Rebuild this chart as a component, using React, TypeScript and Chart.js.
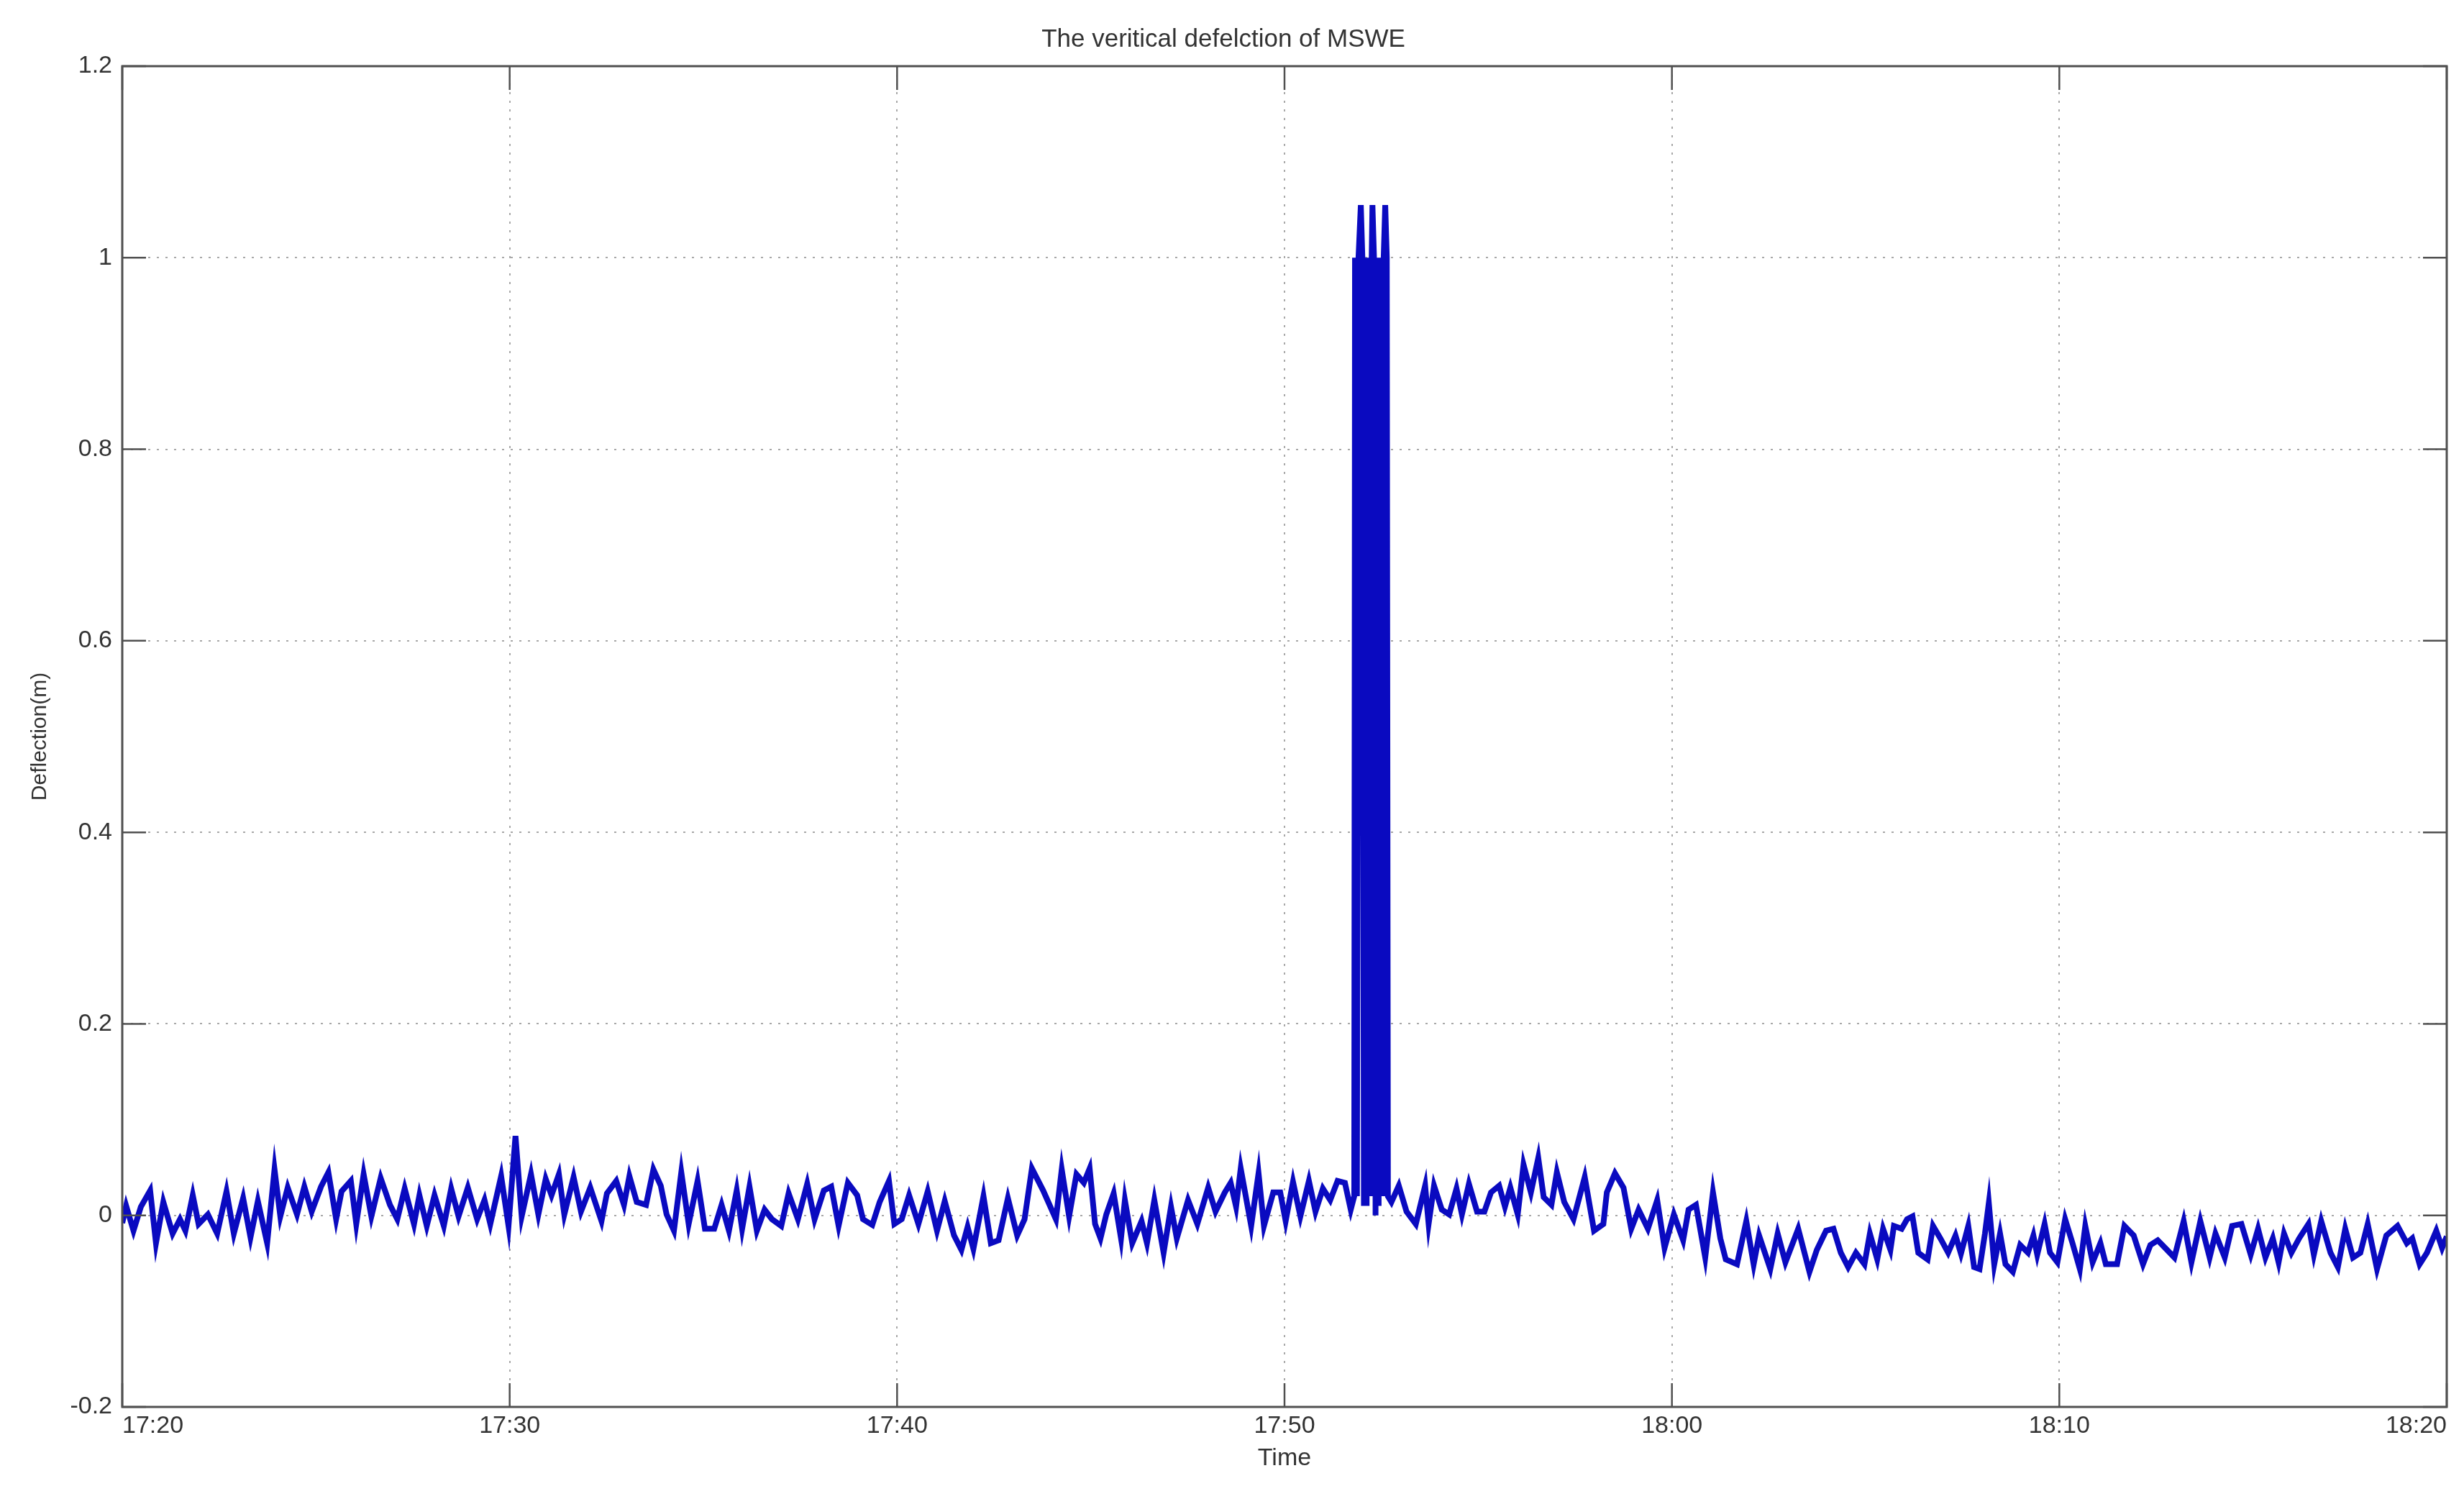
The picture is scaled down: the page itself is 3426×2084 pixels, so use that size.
import React, { useEffect, useRef } from 'react';
import { Chart, registerables } from 'chart.js';

Chart.register(...registerables);

const TITLE = 'The veritical defelction of MSWE';
const X_TITLE = 'Time';
const Y_TITLE = 'Deflection(m)';
const START_MINUTE_OF_DAY = 17 * 60 + 20;
const X_MIN = 0;
const X_MAX = 60;
const X_STEP = 10;
const Y_MIN = -0.2;
const Y_MAX = 1.2;
const Y_STEP = 0.2;

// minutes after 17:20
const timeMinutes = [
  0.00, 0.10, 0.29, 0.48, 0.72, 0.87, 1.06, 1.30, 1.49, 1.63, 1.82, 1.97, 2.21, 2.45, 2.69, 2.88, 3.12, 3.31, 3.50, 3.74,
  3.93, 4.08, 4.27, 4.51, 4.70, 4.89, 5.13, 5.32, 5.52, 5.66, 5.90, 6.04, 6.23, 6.43, 6.67, 6.91, 7.10, 7.29, 7.53, 7.67,
  7.86, 8.06, 8.30, 8.49, 8.68, 8.92, 9.16, 9.35, 9.50, 9.78, 9.97, 10.15, 10.31, 10.55, 10.74, 10.93, 11.08, 11.27, 11.41, 11.65,
  11.84, 12.08, 12.37, 12.51, 12.75, 12.95, 13.09, 13.28, 13.52, 13.71, 13.90, 14.05, 14.24, 14.43, 14.62,
  14.85, 15.04, 15.28, 15.47, 15.66, 15.86, 16.00, 16.19, 16.38, 16.58, 16.77, 17.01, 17.20, 17.44, 17.68, 17.87, 18.11, 18.30, 18.49, 18.73,
  18.97, 19.12, 19.36, 19.55, 19.79, 19.93, 20.12, 20.31, 20.55, 20.79, 21.03, 21.23, 21.47, 21.66, 21.82, 21.97, 22.23, 22.42, 22.62, 22.86,
  23.10, 23.29, 23.48, 23.77, 24.10, 24.25, 24.44, 24.63, 24.82, 24.97, 25.11, 25.25, 25.40, 25.59, 25.78, 25.88, 26.07, 26.31, 26.45, 26.64,
  26.88, 27.07, 27.22, 27.51, 27.75, 28.03, 28.22, 28.46, 28.61, 28.75, 28.87, 29.14, 29.33, 29.47, 29.71,
  29.89, 30.03, 30.22, 30.41, 30.63, 30.80, 30.99, 31.18, 31.37, 31.56, 31.71,
  31.80, 31.82, 31.87, 31.91, 31.97, 32.01, 32.05, 32.09, 32.12, 32.16, 32.22, 32.25, 32.27, 32.31, 32.35, 32.39, 32.43, 32.47, 32.53, 32.56,
  32.60, 32.64, 32.67,
  32.76, 32.95, 33.15, 33.39, 33.63, 33.72, 33.86, 34.06, 34.25, 34.44, 34.58, 34.76, 34.97, 35.16, 35.33, 35.54, 35.69, 35.83, 36.02, 36.17,
  36.36, 36.55, 36.69, 36.89, 37.03, 37.22, 37.46, 37.75, 37.99, 38.23, 38.32, 38.53, 38.75, 38.95, 39.14, 39.38, 39.62, 39.81, 40.05, 40.29,
  40.43, 40.62, 40.86, 41.06, 41.25, 41.39, 41.68, 41.92, 42.11, 42.25, 42.54, 42.73, 42.93, 43.26, 43.55, 43.74, 43.98, 44.17, 44.36, 44.55,
  44.75,
  44.97, 45.11, 45.30, 45.45, 45.64, 45.73, 45.93, 46.07, 46.21, 46.36, 46.60, 46.74, 46.93, 47.13, 47.32, 47.46, 47.65, 47.80, 47.94, 48.08,
  48.18, 48.32, 48.47, 48.61, 48.80, 48.99, 49.19, 49.33, 49.43, 49.62, 49.76, 49.95, 50.15, 50.34, 50.53, 50.67, 50.86, 51.06, 51.20, 51.49,
  51.68, 51.92, 52.16, 52.35, 52.54, 52.78, 52.97, 53.21, 53.41, 53.64, 53.88, 54.03, 54.27, 54.46, 54.70, 54.94, 55.13, 55.32, 55.51, 55.66,
  55.80, 55.99, 56.19, 56.43, 56.57, 56.76, 57.00, 57.19, 57.38, 57.58, 57.77, 57.96, 58.20, 58.44, 58.73, 58.97, 59.11, 59.30, 59.49, 59.73,
  59.88, 60.00,
];

// vertical deflection (m)
const deflection = [
  -0.008, 0.010, -0.016, 0.009, 0.026, -0.029, 0.014, -0.019, -0.004, -0.016, 0.021, -0.009, 0.001, -0.019, 0.025, -0.019, 0.018, -0.023, 0.015, -0.029,
  0.048, -0.001, 0.029, 0.001, 0.030, 0.004, 0.030, 0.045, -0.004, 0.025, 0.036, -0.009, 0.043, -0.001, 0.039, 0.011, -0.004, 0.028, -0.009, 0.021,
  -0.011, 0.021, -0.011, 0.028, -0.001, 0.029, -0.004, 0.016, -0.009, 0.041, -0.011, 0.083, -0.001, 0.043, 0.001, 0.038, 0.021, 0.043, 0.001, 0.040,
  0.004, 0.029, -0.006, 0.023, 0.036, 0.011, 0.041, 0.014, 0.011, 0.048, 0.031, 0.001, -0.016, 0.045, -0.009,
  0.036, -0.014, -0.014, 0.011, -0.016, 0.026, -0.014, 0.030, -0.016, 0.006, -0.004, -0.011, 0.023, -0.004, 0.033, -0.004, 0.026, 0.030, -0.011, 0.034,
  0.021, -0.004, -0.010, 0.014, 0.036, -0.009, -0.004, 0.021, -0.009, 0.025, -0.016, 0.015, -0.021, -0.036, -0.012, -0.035, 0.020, -0.029, -0.026, 0.018,
  -0.021, -0.004, 0.049, 0.026, -0.004, 0.048, -0.001, 0.043, 0.034, 0.049, -0.009, -0.024, 0.001, 0.023, -0.024, 0.016, -0.029, -0.006, -0.029, 0.016,
  -0.039, 0.009, -0.024, 0.016, -0.009, 0.029, 0.004, 0.024, 0.034, 0.009, 0.049, -0.011, 0.044, -0.011, 0.024,
  0.024, -0.006, 0.035, -0.001, 0.036, 0.004, 0.028, 0.016, 0.036, 0.034, 0.006,
  0.020, 1.000, 0.020, 1.000, 1.055, 1.000, 0.010, 1.000, 0.010, 1.000, 0.020, 1.000, 1.055, 1.000, 0.000, 1.000, 0.010, 1.000, 0.020, 1.000,
  1.055, 1.000, 0.020,
  0.014, 0.031, 0.004, -0.009, 0.031, -0.009, 0.031, 0.006, 0.001, 0.028, 0.001, 0.033, 0.004, 0.004, 0.024, 0.031, 0.009, 0.029, 0.001, 0.053,
  0.024, 0.060, 0.019, 0.011, 0.045, 0.014, -0.004, 0.040, -0.016, -0.009, 0.024, 0.044, 0.029, -0.014, 0.006, -0.014, 0.016, -0.034, 0.001, -0.026,
  0.006, 0.011, -0.044, 0.024, -0.024, -0.046, -0.051, -0.006, -0.051, -0.021, -0.056, -0.019, -0.049, -0.014, -0.059, -0.036, -0.016, -0.014, -0.039, -0.054,
  -0.039,
  -0.051, -0.019, -0.046, -0.014, -0.036, -0.011, -0.014, -0.004, -0.001, -0.039, -0.046, -0.011, -0.024, -0.039, -0.021, -0.040, -0.011, -0.054, -0.056, -0.019,
  0.013, -0.051, -0.019, -0.051, -0.059, -0.031, -0.039, -0.021, -0.041, -0.009, -0.039, -0.049, -0.004, -0.029, -0.056, -0.011, -0.049, -0.029, -0.051, -0.051,
  -0.011, -0.021, -0.051, -0.031, -0.026, -0.036, -0.044, -0.006, -0.049, -0.006, -0.044, -0.019, -0.044, -0.011, -0.009, -0.041, -0.014, -0.044, -0.024, -0.049,
  -0.019, -0.039, -0.024, -0.009, -0.041, -0.006, -0.039, -0.054, -0.014, -0.044, -0.039, -0.009, -0.056, -0.021, -0.011, -0.029, -0.024, -0.051, -0.039, -0.016,
  -0.034, -0.022,
];

const FONT = "'Liberation Sans', Arial, Helvetica, sans-serif";
const TEXT_COLOR = '#333333';
const AXIS_COLOR = '#505050';
const LINE_COLOR = '#0a0ac0';

function formatClock(v: number): string {
  const total = START_MINUTE_OF_DAY + Math.round(v);
  const h = Math.floor(total / 60);
  const m = total % 60;
  return `${h}:${m < 10 ? '0' : ''}${m}`;
}

const boxPlugin = {
  id: 'matlabBox',
  afterDraw(chart: any) {
    const { ctx, chartArea } = chart;
    const { left, right, top, bottom } = chartArea;
    const xs = chart.scales.x;
    const ys = chart.scales.y;
    const L = 33;
    ctx.save();
    ctx.strokeStyle = AXIS_COLOR;
    ctx.lineWidth = 2.5;
    const seg = (x1: number, y1: number, x2: number, y2: number) => {
      ctx.beginPath();
      ctx.moveTo(x1, y1);
      ctx.lineTo(x2, y2);
      ctx.stroke();
    };
    xs.ticks.forEach((t: any) => {
      const px = xs.getPixelForValue(t.value);
      seg(px, bottom, px, bottom - L);
      seg(px, top, px, top + L);
    });
    ys.ticks.forEach((t: any) => {
      const py = ys.getPixelForValue(t.value);
      seg(left, py, left + L, py);
      seg(right, py, right - L, py);
    });
    ctx.lineWidth = 3;
    ctx.strokeRect(left, top, right - left, bottom - top);
    ctx.restore();
  },
};

export default function App() {
  const canvasRef = useRef<HTMLCanvasElement | null>(null);

  useEffect(() => {
    const canvas = canvasRef.current;
    if (!canvas) return;
    const points = timeMinutes.map((t, i) => ({ x: t, y: deflection[i] }));
    const chart = new Chart(canvas, {
      type: 'line',
      data: {
        datasets: [
          {
            data: points,
            borderColor: LINE_COLOR,
            borderWidth: 8,
            pointRadius: 0,
            tension: 0,
            fill: false,
            borderJoinStyle: 'miter',
          },
        ],
      },
      options: {
        responsive: false,
        animation: false,
        events: [],
        layout: { padding: { left: 0, right: 24, top: 0, bottom: 0 } },
        plugins: {
          legend: { display: false },
          tooltip: { enabled: false },
          title: {
            display: true,
            text: TITLE,
            color: TEXT_COLOR,
            font: { family: FONT, size: 35, weight: 'normal' },
            padding: { top: 34, bottom: 16 },
          },
        },
        scales: {
          x: {
            type: 'linear',
            min: X_MIN,
            max: X_MAX,
            afterFit: (s: any) => {
              s.height = 128;
              s.paddingLeft = 0;
              s.paddingRight = 0;
            },
            ticks: {
              stepSize: X_STEP,
              align: 'inner',
              maxRotation: 0,
              autoSkip: false,
              padding: 6,
              color: TEXT_COLOR,
              font: { family: FONT, size: 34 },
              callback: (v: any) => formatClock(Number(v)),
            },
            grid: {
              color: '#a8a8a8',
              lineWidth: 2,
              drawTicks: false,
            },
            border: { display: false, dash: [3, 9] },
            title: {
              display: true,
              text: X_TITLE,
              color: TEXT_COLOR,
              font: { family: FONT, size: 34 },
              padding: { top: 0, bottom: 36 },
            },
          },
          y: {
            type: 'linear',
            min: Y_MIN,
            max: Y_MAX,
            afterFit: (s: any) => {
              s.width = 170;
              s.paddingTop = 0;
              s.paddingBottom = 0;
            },
            ticks: {
              stepSize: Y_STEP,
              padding: 14,
              color: TEXT_COLOR,
              font: { family: FONT, size: 34 },
              callback: (v: any) => String(Number(Number(v).toFixed(1))),
            },
            grid: {
              color: '#a8a8a8',
              lineWidth: 2,
              drawTicks: false,
            },
            border: { display: false, dash: [3, 9] },
            title: {
              display: true,
              text: Y_TITLE,
              color: TEXT_COLOR,
              font: { family: FONT, size: 30 },
              padding: { top: 38, bottom: 0 },
            },
          },
        },
      },
      plugins: [boxPlugin],
    } as any);
    return () => chart.destroy();
  }, []);

  return (
    <div style={{ position: 'absolute', left: 0, top: 0, width: 3426, height: 2084, background: '#ffffff' }}>
      <canvas ref={canvasRef} width={3426} height={2084} style={{ display: 'block', width: 3426, height: 2084 }} />
    </div>
  );
}
